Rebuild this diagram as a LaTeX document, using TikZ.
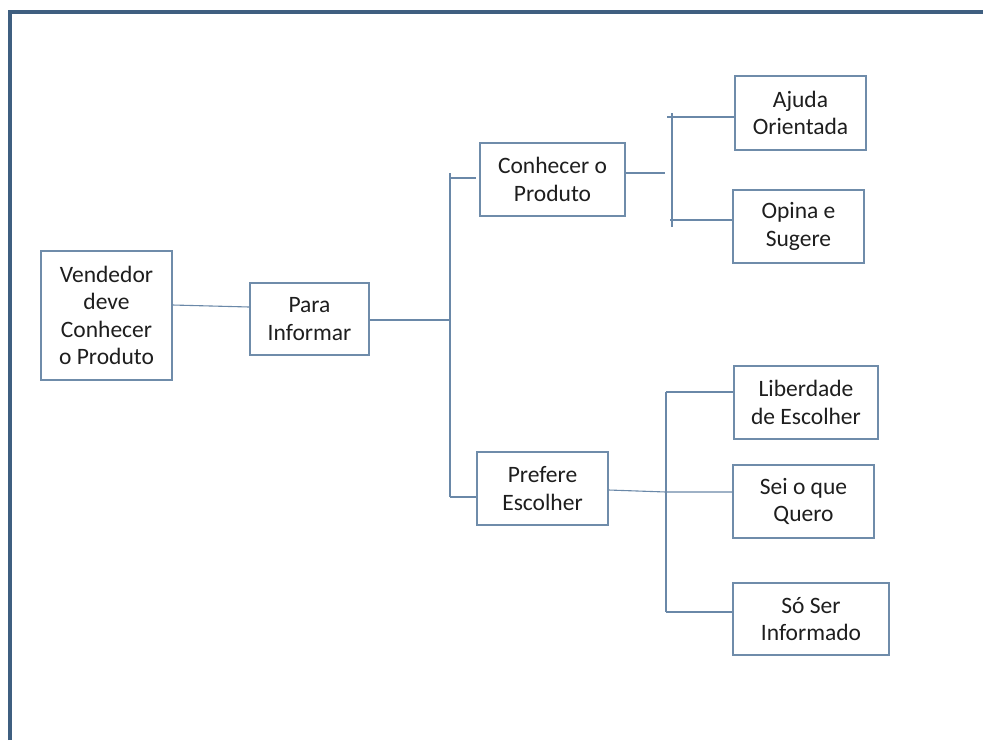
\documentclass[tikz,border=0pt]{standalone}
\usepackage{fontspec}
\setmainfont{Carlito}
\definecolor{boxc}{HTML}{6F8CAA}
\definecolor{linec}{HTML}{6A88A8}
\definecolor{framec}{HTML}{3F5F80}
\definecolor{txtc}{HTML}{1E1E1E}
\begin{document}
\begin{tikzpicture}[x=1pt,y=-1pt,
  box/.style={draw=boxc, line width=1.2pt, align=center, inner sep=0pt,
    font=\fontsize{23.5}{27.5}\selectfont, text=txtc},
  conn/.style={draw=linec, line width=1.1pt}]
\useasboundingbox (0,0) rectangle (983,740);
\fill[white] (0,0) rectangle (983,740);
% frame
\draw[framec, line width=4pt] (10,740) -- (10,12) -- (983,12);
% nodes
\node[box, minimum width=131, minimum height=129] (vend) at (106.5,315.5) {Vendedor\\deve\\Conhecer\\o Produto};
\node[box, minimum width=119, minimum height=72] (para) at (309.5,319) {Para\\Informar};
\node[box, minimum width=145, minimum height=73] (conh) at (552.5,179.5) {Conhecer o\\Produto};
\node[box, minimum width=131, minimum height=73] (pref) at (542.5,488.5) {Prefere\\Escolher};
\node[box, minimum width=131, minimum height=74] (ajud) at (800.5,113) {Ajuda\\Orientada};
\node[box, minimum width=131, minimum height=73] (opin) at (798.5,226.5) {Opina e\\Sugere};
\node[box, minimum width=144, minimum height=73] (libe) at (806,402.5) {Liberdade\\de Escolher};
\node[box, minimum width=141, minimum height=73] (sei) at (803.5,501.5) {Sei o que\\Quero};
\node[box, minimum width=156, minimum height=72] (soser) at (811,619) {Só Ser\\Informado};
% junction coordinates
\coordinate (j1) at (450,320);
\coordinate (j1t) at (450,178);
\coordinate (j1b) at (450,497);
\coordinate (j1top) at (450,173);
\coordinate (j1tick) at (476,178);
\coordinate (j2end) at (665,173);
\coordinate (j2top) at (672,113);
\coordinate (j2bot) at (672,227);
\coordinate (j2t) at (667,117);
\coordinate (j2b) at (670,220);
\coordinate (j3) at (666,492);
\coordinate (j3t) at (666,392);
\coordinate (j3b) at (666,612);
% connectors
\draw[conn] (vend.east |- 0,305) -- (para.west |- 0,307);
\draw[conn] (para.east |- j1) -- (j1);
\draw[conn] (j1top) -- (j1b);
\draw[conn] (j1t) -- (j1tick);
\draw[conn] (j1b) -- (pref.west |- j1b);
\draw[conn] (conh.east |- j2end) -- (j2end);
\draw[conn] (j2top) -- (j2bot);
\draw[conn] (j2t) -- (ajud.west |- j2t);
\draw[conn] (j2b) -- (opin.west |- j2b);
\draw[conn] (pref.east |- 0,490) -- (j3) -- (sei.west |- j3);
\draw[conn] (j3t) -- (j3b);
\draw[conn] (j3t) -- (libe.west |- j3t);
\draw[conn] (j3b) -- (soser.west |- j3b);
\end{tikzpicture}
\end{document}
